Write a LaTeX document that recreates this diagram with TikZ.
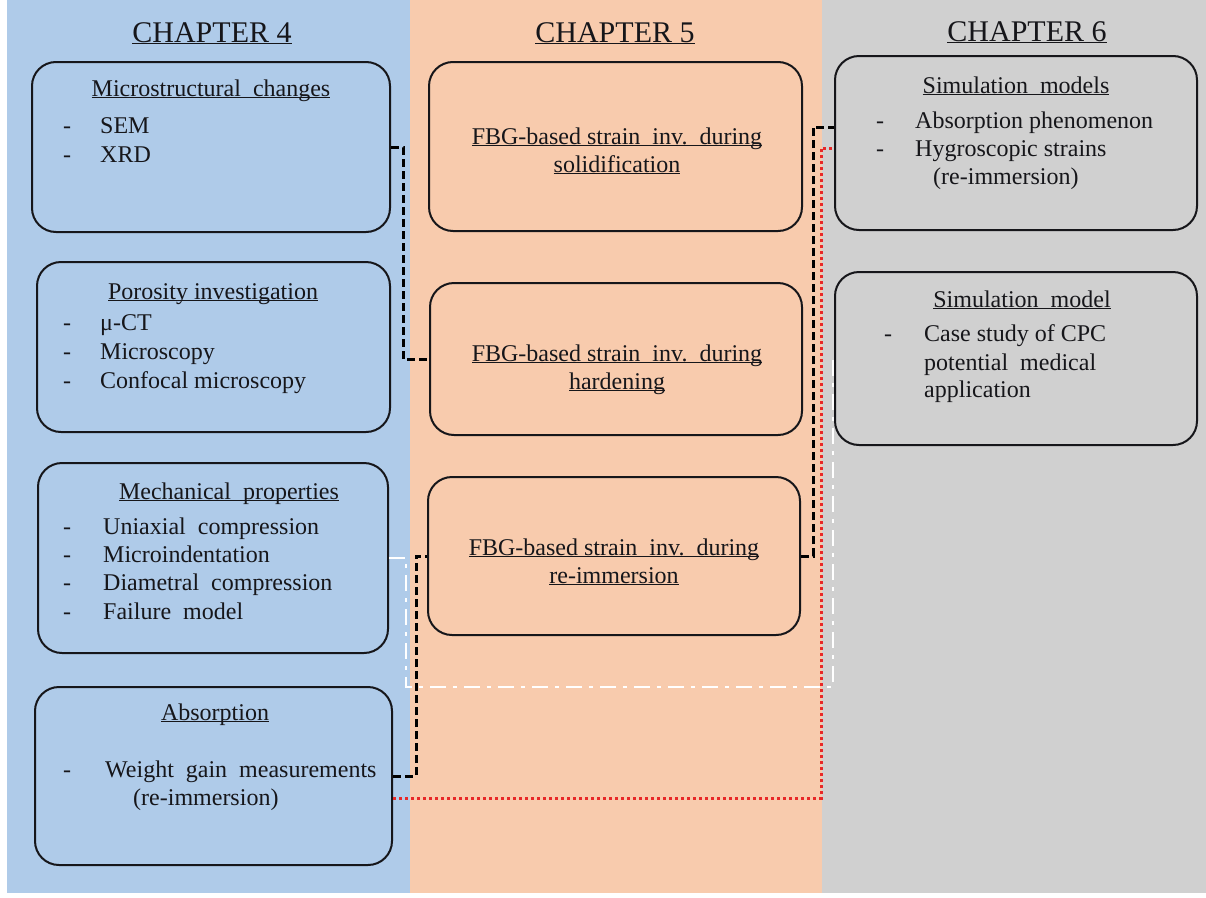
\documentclass[tikz,border=0pt]{standalone}
\usepackage{fontspec}
\setmainfont{Liberation Serif}
\usetikzlibrary{calc}
\definecolor{chapblue}{RGB}{175,203,233}
\definecolor{chaporange}{RGB}{248,203,173}
\definecolor{chapgray}{RGB}{208,208,208}
\definecolor{inkdark}{RGB}{22,22,26}
\definecolor{dotred}{RGB}{232,40,40}
\newcommand{\ulbase}[1]{\underline{\smash{#1}}}

\begin{document}
\begin{tikzpicture}[x=1pt,y=-1pt,
    chapbox/.style={draw=inkdark,line width=2pt,rounded corners=24pt,inner sep=0pt},
    heading/.style={inner sep=0pt,text=inkdark,yshift=-11pt,font=\fontsize{30}{34}\selectfont},
    boxtext/.style={inner sep=0pt,text=inkdark,text height=0.7em,text depth=0.25em,
        yshift=-5pt,font=\fontsize{24}{28}\selectfont},
    twoline/.style={boxtext,align=center,text height=,text depth=,yshift=-4pt},
    linkblack/.style={draw=black,line width=3pt,dash pattern=on 8pt off 4pt},
    linkred/.style={draw=dotred,line width=3pt,dash pattern=on 3pt off 3pt},
    linkwhite/.style={draw=white,line width=2.5pt,dash pattern=on 16pt off 7pt on 4pt off 7pt}]

\newcommand{\boxtitle}[4]{
    \node[boxtext] (#1) at (#2,#3) {\ulbase{#4}};
}
\newcommand{\boxitem}[5]{
    \node[boxtext] (#1d) at (#2,#4) {-};
    \node[boxtext,anchor=west] (#1) at (#3,#4) {#5};
}

\useasboundingbox (0,0) rectangle (1206,897);
% chapter columns
\fill[chapblue] (7,0) rectangle (410,893);
\fill[chaporange] (410,0) rectangle (822,893);
\fill[chapgray] (822,0) rectangle (1206,893);

\node[heading] (ch4) at (212,32) {\ulbase{CHAPTER 4}};
\node[heading] (ch5) at (615,32) {\ulbase{CHAPTER 5}};
\node[heading] (ch6) at (1027,31) {\ulbase{CHAPTER 6}};

% chapter 4
\node[chapbox,minimum width=358,minimum height=170] (micro) at (211,147) {};
\node[chapbox,minimum width=353,minimum height=170] (poro) at (213.5,347) {};
\node[chapbox,minimum width=350,minimum height=190] (mech) at (213,558) {};
\node[chapbox,minimum width=357,minimum height=178] (absorb) at (213.5,776) {};

\boxtitle{microT}{211}{89}{Microstructural\ \ changes}
\boxitem{sem}{67}{100}{126}{SEM}
\boxitem{xrd}{67}{100}{155}{XRD}

\boxtitle{poroT}{213}{292}{Porosity investigation}
\boxitem{muct}{67}{100}{323}{μ-CT}
\boxitem{micros}{67}{100}{352}{Microscopy}
\boxitem{confo}{67}{100}{381}{Confocal microscopy}

\boxtitle{mechT}{229}{492}{Mechanical\ \ properties}
\boxitem{uni}{67}{103}{527}{Uniaxial\ \ compression}
\boxitem{indent}{67}{103}{555}{Microindentation}
\boxitem{diam}{67}{103}{583}{Diametral\ \ compression}
\boxitem{fail}{67}{103}{612}{Failure\ \ model}

\boxtitle{absorbT}{215}{713}{Absorption}
\boxitem{weight}{67}{105}{770}{Weight\ \ gain\ \ measurements}
\node[boxtext,anchor=west] (weightb) at (133,798) {(re-immersion)};

% chapter 5
\node[chapbox,minimum width=373,minimum height=169] (solid) at (615.5,146.5) {};
\node[chapbox,minimum width=372,minimum height=152] (hard) at (616,359) {};
\node[chapbox,minimum width=372,minimum height=158] (reimm) at (614,556) {};

\node[twoline] (solidT) at (617,150) {\ulbase{FBG-based strain\ \ inv.\ \ during}\\\ulbase{solidification}};
\node[twoline] (hardT) at (617,367) {\ulbase{FBG-based strain\ \ inv.\ \ during}\\\ulbase{hardening}};
\node[twoline] (reimmT) at (614,561) {\ulbase{FBG-based strain\ \ inv.\ \ during}\\\ulbase{re-immersion}};

% chapter 6
\node[chapbox,minimum width=362,minimum height=174] (simmods) at (1016,143) {};
\node[chapbox,minimum width=362,minimum height=173] (simmod) at (1016,358.5) {};

\boxtitle{simmodsT}{1016}{86}{Simulation\ \ models}
\boxitem{absph}{880}{915}{121}{Absorption phenomenon}
\boxitem{hygro}{880}{915}{149}{Hygroscopic strains}
\node[boxtext,anchor=west] (hygrob) at (933,177) {(re-immersion)};

\boxtitle{simmodT}{1022}{300}{Simulation\ \ model}
\boxitem{case}{888}{924}{334}{Case study of CPC}
\node[boxtext,anchor=west] (caseb) at (924,363) {potential\ \ medical};
\node[boxtext,anchor=west] (casec) at (924,390) {application};

% links
\coordinate (whitecorner) at (833,687);
\draw[linkwhite] (mech.east) -- ++(17,0) |- (whitecorner) |- (simmod.west);
\draw[linkblack] (micro.east) -- ++(12,0) |- (hard.west);
\draw[linkblack] (absorb.east) -- ++(23,0) |- (reimm.west);
\draw[linkblack] (reimm.east) -- ++(12,0) |- ($(simmods.west)+(0,-16)$);
\draw[linkred] ($(absorb.east)+(0,22)$) -| ($(simmods.west)+(-13,5)$) -- ($(simmods.west)+(0,5)$);
\end{tikzpicture}
\end{document}
